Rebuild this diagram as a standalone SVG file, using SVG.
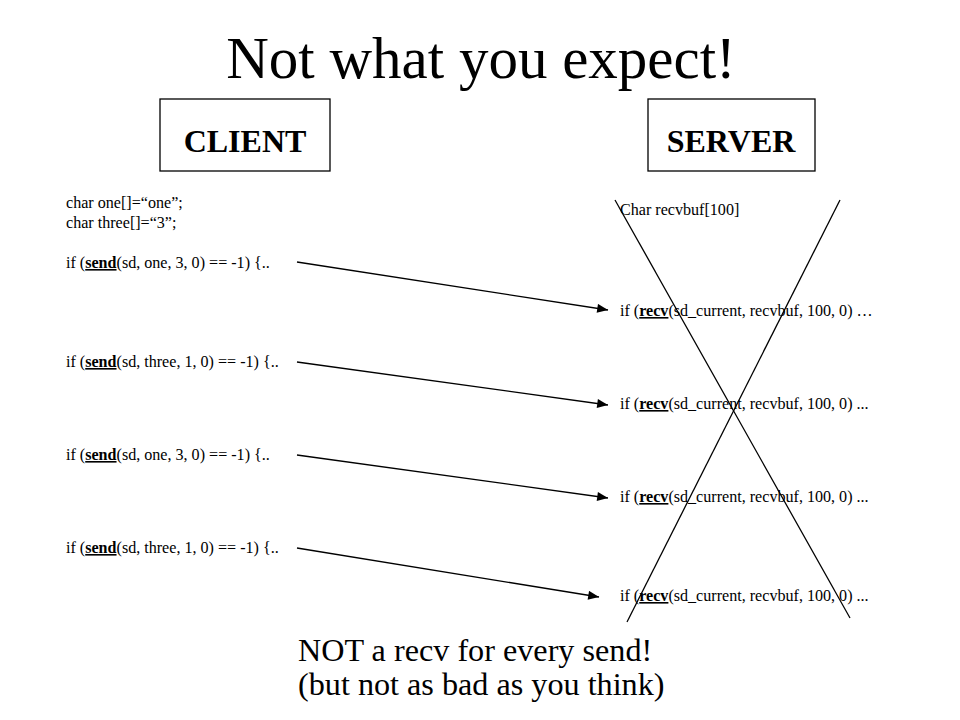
<svg xmlns="http://www.w3.org/2000/svg" width="960" height="720" viewBox="0 0 960 720">
<style>
text{font-family:'Liberation Serif','Times New Roman',Times,'DejaVu Serif',serif;fill:#000}
.code{font-size:16.1px}
.kw{font-weight:bold;text-decoration:underline}
.box{fill:#fff;stroke:#000;stroke-width:1.3}
.lbl{font-size:32px;font-weight:bold;text-anchor:middle}
.conn{stroke:#000;stroke-width:1.3;fill:none}
.note{font-size:32.2px}
</style>
<defs>
<marker id="ah" viewBox="0 0 12 10" refX="12" refY="5" markerWidth="12" markerHeight="9" markerUnits="userSpaceOnUse" orient="auto">
<path d="M0,0 L12,5 L0,10 z" fill="#000"/>
</marker>
</defs>
<rect width="960" height="720" fill="#fff"/>
<text x="481" y="78" font-size="59" text-anchor="middle">Not what you expect!</text>
<g id="client">
<rect class="box" x="160" y="99" width="170" height="72"/>
<text class="lbl" x="245" y="152">CLIENT</text>
</g>
<g id="server">
<rect class="box" x="648" y="99" width="167" height="72"/>
<text class="lbl" x="731" y="152">SERVER</text>
</g>
<g id="client-code">
<text class="code" x="66" y="208">char one[]=“one”;</text>
<text class="code" x="66" y="228">char three[]=“3”;</text>
<text class="code" x="66" y="268">if (<tspan class="kw">send</tspan>(sd, one, 3, 0) == -1) {..</text>
<text class="code" x="66" y="367">if (<tspan class="kw">send</tspan>(sd, three, 1, 0) == -1) {..</text>
<text class="code" x="66" y="460">if (<tspan class="kw">send</tspan>(sd, one, 3, 0) == -1) {..</text>
<text class="code" x="66" y="553">if (<tspan class="kw">send</tspan>(sd, three, 1, 0) == -1) {..</text>
</g>
<g id="server-code">
<text class="code" x="620" y="215">Char recvbuf[100]</text>
<text class="code" x="620" y="316">if (<tspan class="kw">recv</tspan>(sd_current, recvbuf, 100, 0) …</text>
<text class="code" x="620" y="409">if (<tspan class="kw">recv</tspan>(sd_current, recvbuf, 100, 0) ...</text>
<text class="code" x="620" y="502">if (<tspan class="kw">recv</tspan>(sd_current, recvbuf, 100, 0) ...</text>
<text class="code" x="620" y="601">if (<tspan class="kw">recv</tspan>(sd_current, recvbuf, 100, 0) ...</text>
</g>
<g id="connectors">
<line class="conn" x1="297" y1="262" x2="608" y2="310" marker-end="url(#ah)"/>
<line class="conn" x1="297" y1="362" x2="608" y2="405" marker-end="url(#ah)"/>
<line class="conn" x1="297" y1="455" x2="608" y2="498" marker-end="url(#ah)"/>
<line class="conn" x1="297" y1="548" x2="599" y2="597" marker-end="url(#ah)"/>
</g>
<g id="cross">
<line class="conn" x1="615" y1="200" x2="850" y2="618"/>
<line class="conn" x1="840" y1="200" x2="627" y2="622"/>
</g>
<g id="note">
<text class="note" x="298" y="661">NOT a recv for every send!</text>
<text class="note" x="298" y="695">(but not as bad as you think)</text>
</g>
</svg>
